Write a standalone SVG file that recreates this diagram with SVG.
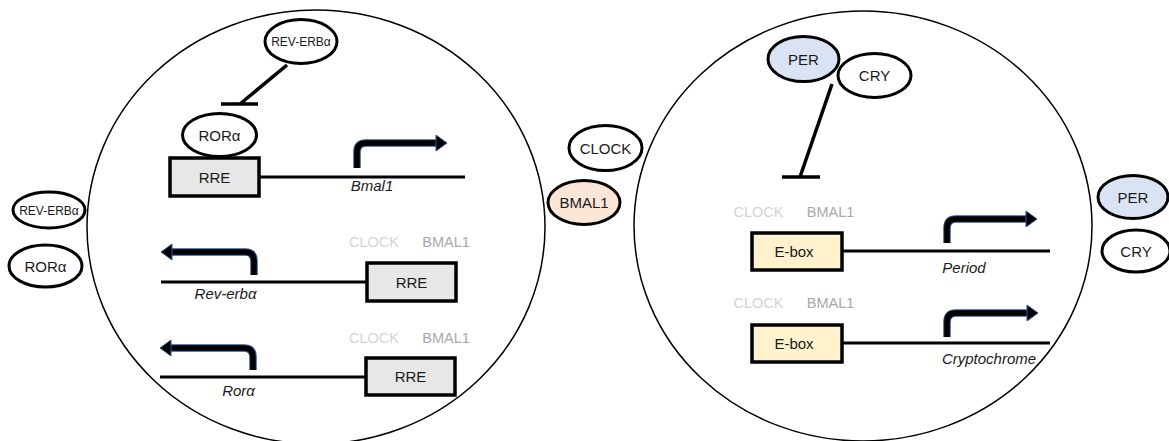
<svg xmlns="http://www.w3.org/2000/svg" width="1169" height="441" viewBox="0 0 1169 441">
<style>
.cell{fill:none;stroke:#000;stroke-width:1.5}
.ov{stroke:#000;stroke-width:3;fill:#fff}
.ov.pink{fill:#fbe5d6}
.ov.blue{fill:#dae3f3}
.box{stroke:#000;stroke-width:3.5}
.rre{fill:#e7e7e7}
.ebox{fill:#fff2cc}
.t{font-family:"Liberation Sans",Arial,sans-serif;font-size:15px;fill:#1a1a1a;text-anchor:middle}
.ts{font-size:12px}
.g{font-style:italic;font-size:15px}
.c1{fill:#d4d4d4;font-size:14.5px}
.c2{fill:#a8a8a8;font-size:14.5px}
.dna{stroke:#000;stroke-width:3;fill:none}
.inh{stroke:#000;stroke-width:3.5;fill:none}
.ao{stroke:#2f5597;stroke-width:7.5;fill:none}
.ai{stroke:#000;stroke-width:5.5;fill:none}
.ah{fill:#000;stroke:#2f5597;stroke-width:1}
</style>
<rect width="1169" height="441" fill="#fff"/>
<g id="cells">
<ellipse class="cell" cx="316" cy="227" rx="229" ry="217"/>
<ellipse class="cell" cx="863" cy="226" rx="229" ry="215"/>
</g>
<g id="connectors">
<path class="dna" d="M259,177 H465"/>
<path class="dna" d="M161,282 H367"/>
<path class="dna" d="M160,377 H366"/>
<path class="dna" d="M842,251 H1050"/>
<path class="dna" d="M842,343 H1050"/>
<path class="inh" d="M287,65 L240,104 M221,104 H258"/>
<path class="inh" d="M832,84 L800,177 M782,177 H820"/>
<g id="arrow-bmal1"><path class="ao" d="M357,168 V152 Q357,143 366,143 H438"/><path class="ai" d="M357,168 V152 Q357,143 366,143 H438"/><polygon class="ah" points="436,135 447,143 436,151"/></g>
<g id="arrow-reverb"><path class="ao" d="M254,275 V261 Q254,252 245,252 H171"/><path class="ai" d="M254,275 V261 Q254,252 245,252 H171"/><polygon class="ah" points="172,244 161,252 172,260"/></g>
<g id="arrow-rora"><path class="ao" d="M253,370 V357 Q253,348 244,348 H170"/><path class="ai" d="M253,370 V357 Q253,348 244,348 H170"/><polygon class="ah" points="171,340 160,348 171,356"/></g>
<g id="arrow-period"><path class="ao" d="M947,243 V228 Q947,219 956,219 H1028"/><path class="ai" d="M947,243 V228 Q947,219 956,219 H1028"/><polygon class="ah" points="1026,211 1037,219 1026,227"/></g>
<g id="arrow-cry"><path class="ao" d="M947,337 V322 Q947,313 956,313 H1029"/><path class="ai" d="M947,337 V322 Q947,313 956,313 H1029"/><polygon class="ah" points="1027,305 1038,313 1027,321"/></g>
</g>
<g id="rev-erb-top"><ellipse class="ov" cx="301" cy="41.5" rx="36" ry="22"/><text class="t ts" x="301" y="46">REV-ERBα</text></g>
<g id="ror-top"><ellipse class="ov" cx="219.5" cy="135" rx="37" ry="21.5"/><text class="t" x="219.5" y="140.5">RORα</text></g>
<g id="rre-1"><rect class="box rre" x="170" y="158" width="89" height="38"/><text class="t" x="214.5" y="182.5">RRE</text></g>
<text class="t g" x="372" y="191">Bmal1</text>
<g id="rev-erb-out"><ellipse class="ov" cx="49" cy="210" rx="36" ry="18"/><text class="t ts" x="49" y="214.5">REV-ERBα</text></g>
<g id="ror-out"><ellipse class="ov" cx="45.5" cy="266" rx="36.5" ry="21"/><text class="t" x="45.5" y="271.5">RORα</text></g>
<g id="labels-l1"><text class="t c1" x="374" y="247">CLOCK</text><text class="t c2" x="446" y="247">BMAL1</text></g>
<g id="rre-2"><rect class="box rre" x="367" y="263" width="89" height="38"/><text class="t" x="411.5" y="287.5">RRE</text></g>
<text class="t g" x="225.5" y="299">Rev-erbα</text>
<g id="labels-l2"><text class="t c1" x="374" y="343">CLOCK</text><text class="t c2" x="446" y="343">BMAL1</text></g>
<g id="rre-3"><rect class="box rre" x="366" y="358" width="89" height="37"/><text class="t" x="410.5" y="382">RRE</text></g>
<text class="t g" x="238.5" y="396">Rorα</text>
<g id="clock-mid"><ellipse class="ov" cx="605.5" cy="148" rx="36.5" ry="22.5"/><text class="t" x="605.5" y="153.5">CLOCK</text></g>
<g id="bmal1-mid"><ellipse class="ov pink" cx="584" cy="202.5" rx="36" ry="22"/><text class="t" x="584" y="208">BMAL1</text></g>
<g id="per-top"><ellipse class="ov blue" cx="803.5" cy="59" rx="35.5" ry="22.5"/><text class="t" x="803.5" y="64.5">PER</text></g>
<g id="cry-top"><ellipse class="ov" cx="874.5" cy="75.5" rx="36.5" ry="22"/><text class="t" x="874.5" y="81">CRY</text></g>
<g id="labels-r1"><text class="t c1" x="758.5" y="217">CLOCK</text><text class="t c2" x="830.5" y="217">BMAL1</text></g>
<g id="ebox-1"><rect class="box ebox" x="752" y="233" width="90" height="37"/><text class="t" x="794" y="257">E-box</text></g>
<text class="t g" x="964" y="273">Period</text>
<g id="labels-r2"><text class="t c1" x="758.5" y="308">CLOCK</text><text class="t c2" x="830.5" y="308">BMAL1</text></g>
<g id="ebox-2"><rect class="box ebox" x="752" y="325" width="90" height="37"/><text class="t" x="794" y="349">E-box</text></g>
<text class="t g" x="989" y="364">Cryptochrome</text>
<g id="per-out"><ellipse class="ov blue" cx="1133" cy="197" rx="35" ry="21.5"/><text class="t" x="1133" y="202.5">PER</text></g>
<g id="cry-out"><ellipse class="ov" cx="1136" cy="251" rx="34" ry="21"/><text class="t" x="1136" y="256.5">CRY</text></g>
</svg>
